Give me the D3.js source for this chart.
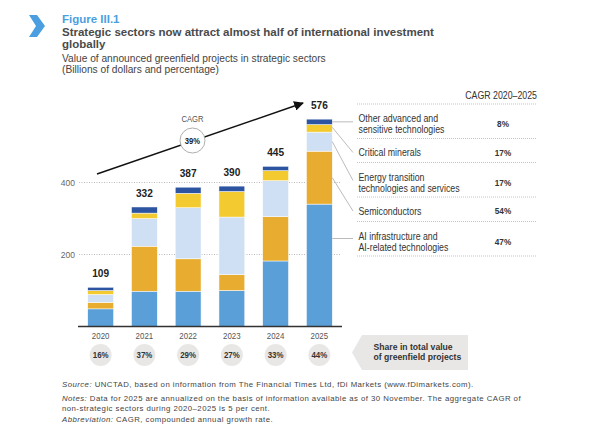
<!DOCTYPE html>
<meta charset="utf-8">
<script src="https://cdn.jsdelivr.net/npm/d3@7"></script>
<style>
  body { margin: 0; background: #fff; }
  svg { font-family: "Liberation Sans", Arial, sans-serif; }
</style>
<div id="chart"></div>
<script>
// data, bottom to top of each stack
var years = ["2020", "2021", "2022", "2023", "2024", "2025"];
var aiInfra   = [49, 98, 98, 100, 182, 340];
var semis     = [18, 125, 90, 44, 123, 147];
var energy    = [22, 77, 142, 160, 100, 53];
var minerals  = [11, 15, 40, 71, 28, 21];
var otherTech = [9, 17, 17, 15, 12, 15];
var totals    = [109, 332, 387, 390, 445, 576];
var shares    = ["16%", "37%", "29%", "27%", "33%", "44%"];
var yTicks    = [200, 400];
var sectorNames = [
  ["AI infrastructure and", "AI-related technologies"],
  ["Semiconductors"],
  ["Energy transition", "technologies and services"],
  ["Critical minerals"],
  ["Other advanced and", "sensitive technologies"]
];
var sectorCagr = ["47%", "54%", "17%", "17%", "8%"];
var totalCagr = "39%";

var colors = ["#5b9fd8", "#e8ad30", "#cfe0f4", "#f3ca30", "#2d54a0"];

var W = 600, H = 434;
var svg = d3.select("#chart").append("svg")
  .attr("width", W).attr("height", H);

// the original uses a condensed face; squeeze Liberation Sans to get close
function narrowText(parent, x, y, s, txt) {
  return parent.append("g")
    .attr("transform", "translate(" + x + "," + y + ") scale(" + s + ",1)")
    .append("text").text(txt);
}

// header
svg.append("polygon")
  .attr("points", "29,15 37,15 45,26 37,37 29,37 36,26")
  .attr("fill", "#4b9fe1");

svg.append("text").attr("x", 62).attr("y", 23)
  .attr("font-size", 11.5).attr("font-weight", "bold").attr("fill", "#4b9fe1")
  .text("Figure III.1");
svg.append("text").attr("x", 62).attr("y", 35.5)
  .attr("font-size", 11.5).attr("font-weight", "bold").attr("fill", "#4a4a4a")
  .text("Strategic sectors now attract almost half of international investment");
svg.append("text").attr("x", 62).attr("y", 47.5)
  .attr("font-size", 11.5).attr("font-weight", "bold").attr("fill", "#4a4a4a")
  .text("globally");
svg.append("text").attr("x", 62).attr("y", 61.5)
  .attr("font-size", 10.2).attr("fill", "#444")
  .text("Value of announced greenfield projects in strategic sectors");
svg.append("text").attr("x", 62).attr("y", 73)
  .attr("font-size", 10.2).attr("fill", "#444")
  .text("(Billions of dollars and percentage)");

// scales
var x = d3.scaleBand().domain(years).range([79, 341]).paddingInner(0.41).paddingOuter(0.2);
var y = d3.scaleLinear().domain([0, 200]).range([326.5, 254.5]);

// gridlines
svg.append("g").selectAll("line").data(yTicks).enter().append("line")
  .attr("x1", 79).attr("x2", 341)
  .attr("y1", d => y(d)).attr("y2", d => y(d))
  .attr("stroke", "#aaa").attr("stroke-width", 0.8).attr("stroke-dasharray", "1,1.5");

svg.append("g").selectAll("text").data(yTicks).enter().append("text")
  .attr("x", 75).attr("y", d => y(d) + 3)
  .attr("text-anchor", "end").attr("font-size", 8.5).attr("fill", "#666")
  .text(d => d);

// stacks
var rows = years.map(function(yr, i) {
  return { year: yr, ai: aiInfra[i], semi: semis[i], energy: energy[i], min: minerals[i], other: otherTech[i] };
});
var keys = ["ai", "semi", "energy", "min", "other"];
var stack = d3.stack().keys(keys)(rows);

svg.append("g").selectAll("g").data(stack).enter().append("g")
  .attr("fill", (d, i) => colors[i])
  .selectAll("rect").data(d => d).enter().append("rect")
    .attr("x", d => x(d.data.year))
    .attr("y", d => y(d[1]))
    .attr("width", x.bandwidth())
    .attr("height", d => y(d[0]) - y(d[1]))
    .attr("stroke", "#fff").attr("stroke-width", 0.5);

// axis baseline
svg.append("line").attr("x1", 78).attr("x2", 342)
  .attr("y1", y(0)).attr("y2", y(0))
  .attr("stroke", "#333").attr("stroke-width", 1.3);

// totals
totals.forEach(function(d, i) {
  narrowText(svg, x(years[i]) + x.bandwidth() / 2, y(d) - 10, 0.88, d)
    .attr("text-anchor", "middle").attr("font-size", 11.5).attr("font-weight", "bold").attr("fill", "#222");
});

// year labels
years.forEach(function(d) {
  narrowText(svg, x(d) + x.bandwidth() / 2, 339, 0.85, d)
    .attr("text-anchor", "middle").attr("font-size", 9.3).attr("fill", "#555");
});

// share circles
shares.forEach(function(d, i) {
  var cx = x(years[i]) + x.bandwidth() / 2;
  svg.append("circle").attr("cx", cx).attr("cy", 355).attr("r", 11).attr("fill", "#e9e7e6");
  narrowText(svg, cx, 358.3, 0.85, d)
    .attr("text-anchor", "middle").attr("font-size", 9.3).attr("font-weight", "bold").attr("fill", "#333");
});

// share box
svg.append("polygon")
  .attr("points", "352,352.5 362,335 468,335 468,370 362,370")
  .attr("fill", "#e9e7e6");
narrowText(svg, 373.5, 349.5, 0.9, "Share in total value")
  .attr("font-size", 9.6).attr("fill", "#333").attr("font-weight", "bold");
narrowText(svg, 373.5, 360, 0.9, "of greenfield projects")
  .attr("font-size", 9.6).attr("fill", "#333").attr("font-weight", "bold");

// CAGR arrow
svg.append("defs").append("marker")
  .attr("id", "arr").attr("viewBox", "0 0 10 10").attr("refX", 9).attr("refY", 5)
  .attr("markerWidth", 7).attr("markerHeight", 7).attr("orient", "auto")
  .append("path").attr("d", "M0,0L10,5L0,10z").attr("fill", "#111");
svg.append("line").attr("x1", 97).attr("y1", 174).attr("x2", 303).attr("y2", 103)
  .attr("stroke", "#111").attr("stroke-width", 1.4).attr("marker-end", "url(#arr)");
svg.append("circle").attr("cx", 192.5).attr("cy", 140.5).attr("r", 12.5)
  .attr("fill", "#fff").attr("stroke", "#999").attr("stroke-width", 0.8);
narrowText(svg, 192.5, 143.5, 0.85, totalCagr)
  .attr("text-anchor", "middle").attr("font-size", 9).attr("font-weight", "bold").attr("fill", "#222");
narrowText(svg, 192.5, 121.5, 0.85, "CAGR")
  .attr("text-anchor", "middle").attr("font-size", 9).attr("fill", "#555");

// legend table
var legX = 357, legR = 537, valX = 503;
narrowText(svg, legR, 98.5, 0.88, "CAGR 2020\u20132025")
  .attr("text-anchor", "end").attr("font-size", 10).attr("fill", "#333");
var sepY = [104, 138.5, 162.5, 197, 221.5, 256];
svg.append("g").selectAll("line").data(sepY).enter().append("line")
  .attr("x1", legX).attr("x2", legR).attr("y1", d => d).attr("y2", d => d)
  .attr("stroke", "#aaa").attr("stroke-width", 0.7).attr("stroke-dasharray", "1,1");

// rows from bottom sector (index 0) to top
var rowMid = [241.5, 211, 182.5, 152.5, 123.5];
sectorNames.forEach(function(lines, i) {
  var top = rowMid[i] - (lines.length - 1) * 5.5;
  lines.forEach(function(t, j) {
    narrowText(svg, legX + 1.5, top + j * 11 + 3.5, 0.88, t)
      .attr("font-size", 10).attr("fill", "#333");
  });
  narrowText(svg, valX, rowMid[i] + 3.3, 0.88, sectorCagr[i])
    .attr("text-anchor", "middle").attr("font-size", 9.3).attr("font-weight", "bold").attr("fill", "#333");
});

// leader lines from the 2025 stack
var last = years.length - 1;
var bx = x(years[last]) + x.bandwidth();
var segMid = stack.map(d => y((d[last][0] + d[last][1]) / 2));
var leadFrom = [rowMid[0] - 3, segMid[1], segMid[2], segMid[3] - 1, segMid[4]];
var leadTo = [rowMid[0] - 3, rowMid[1], rowMid[2] - 2, rowMid[3], segMid[4]];
svg.append("g").selectAll("line").data(keys).enter().append("line")
  .attr("x1", bx).attr("y1", (d, i) => leadFrom[i])
  .attr("x2", 353).attr("y2", (d, i) => leadTo[i])
  .attr("stroke", "#aaa").attr("stroke-width", 0.8);

// notes
var notes = svg.append("g").attr("font-size", 7.8).attr("fill", "#444").attr("letter-spacing", 0.45);
var n1 = notes.append("text").attr("x", 62).attr("y", 387);
n1.append("tspan").attr("font-style", "italic").text("Source:");
n1.append("tspan").text(" UNCTAD, based on information from The Financial Times Ltd, fDi Markets (www.fDimarkets.com).");
var n2 = notes.append("text").attr("x", 62).attr("y", 401);
n2.append("tspan").attr("font-style", "italic").text("Notes:");
n2.append("tspan").text(" Data for 2025 are annualized on the basis of information available as of 30 November. The aggregate CAGR of");
notes.append("text").attr("x", 62).attr("y", 411)
  .text("non-strategic sectors during 2020\u20132025 is 5 per cent.");
var n3 = notes.append("text").attr("x", 62).attr("y", 421.5);
n3.append("tspan").attr("font-style", "italic").text("Abbreviation:");
n3.append("tspan").text(" CAGR, compounded annual growth rate.");
</script>
